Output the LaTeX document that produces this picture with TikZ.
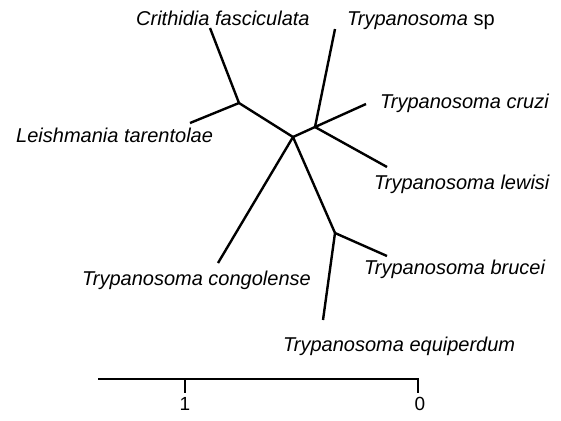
\documentclass[tikz,border=0pt]{standalone}
\usepackage{fontspec}
\setsansfont{Liberation Sans}

\begin{document}
\begin{tikzpicture}[x=0.5pt, y=-0.5pt, line width=1.2pt,
    taxon/.style={font=\sffamily\itshape\fontsize{10}{12}\selectfont, inner sep=0pt},
    scalelbl/.style={font=\sffamily\fontsize{9.5}{11}\selectfont, inner sep=0pt}]
    \useasboundingbox (0,0) rectangle (561,420);
    % inner branch points and tips
    \coordinate (root) at (293,137);
    \coordinate (leishnode) at (239,103);
    \coordinate (cruzinode) at (315,127);
    \coordinate (brucnode) at (335,233);
    \coordinate (crithtip) at (210,28);
    \coordinate (leishtip) at (190,123);
    \coordinate (sptip) at (335,29);
    \coordinate (cruzitip) at (366,104);
    \coordinate (lewisitip) at (387,167);
    \coordinate (congotip) at (218,263);
    \coordinate (bructip) at (387,256);
    \coordinate (equitip) at (323,320);
    % branches
    \draw (root) -- (leishnode);
    \draw (leishnode) -- (crithtip);
    \draw (leishnode) -- (leishtip);
    \draw (root) -- (cruzinode);
    \draw (cruzinode) -- (sptip);
    \draw (cruzinode) -- (cruzitip);
    \draw (cruzinode) -- (lewisitip);
    \draw (root) -- (congotip);
    \draw (root) -- (brucnode);
    \draw (brucnode) -- (bructip);
    \draw (brucnode) -- (equitip);
    % names
    \node[taxon, anchor=base west] (crith) at (135,25) {Crithidia fasciculata};
    \node[taxon, anchor=base west] (tsp) at (346,25) {Trypanosoma \upshape sp};
    \node[taxon, anchor=base west] (cruzi) at (379,108) {Trypanosoma cruzi};
    \node[taxon, anchor=base west] (leish) at (15,142) {Leishmania tarentolae};
    \node[taxon, anchor=base west] (lewisi) at (373,189) {Trypanosoma lewisi};
    \node[taxon, anchor=base east] (congo) at (312,285) {Trypanosoma congolense};
    \node[taxon, anchor=base west] (brucei) at (363,274) {Trypanosoma brucei};
    \node[taxon, anchor=base west] (equi) at (282,351) {Trypanosoma equiperdum};
    % distance scale
    \coordinate (barl) at (98,379);
    \coordinate (barone) at (185,379);
    \coordinate (barzero) at (418,379);
    \coordinate (tickone) at (185,393);
    \coordinate (tickzero) at (418,393);
    \draw (barl) -- (barzero) -- (tickzero);
    \draw (barone) -- (tickone);
    \node[scalelbl] (one) at (185,404) {1};
    \node[scalelbl] (zero) at (420,404) {0};
\end{tikzpicture}
\end{document}
